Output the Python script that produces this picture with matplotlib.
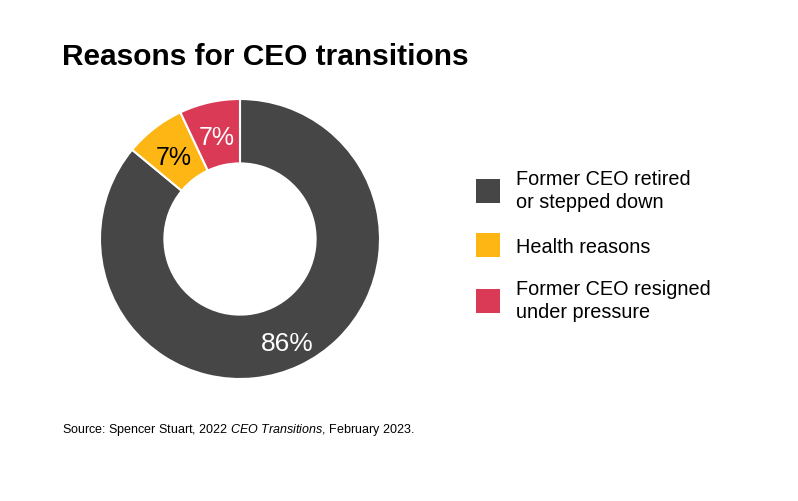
import numpy as np
import matplotlib.pyplot as plt
from matplotlib.patches import Patch

plt.rcParams['font.family'] = ['Liberation Sans', 'DejaVu Sans']
plt.rcParams['mathtext.fontset'] = 'custom'
plt.rcParams['mathtext.rm'] = 'Liberation Sans'
plt.rcParams['mathtext.it'] = 'Liberation Sans:italic'

labels = ['Former CEO retired\nor stepped down', 'Health reasons', 'Former CEO resigned\nunder pressure']
shares = [86, 7, 7]
pct_text = ['86%', '7%', '7%']
colors = ['#464646', '#FDB614', '#DA3A55']
text_colors = ['white', 'black', 'white']

W, H = 798, 502
fig = plt.figure(figsize=(W / 100, H / 100), dpi=100)

# donut centred at (240, 240) px, outer radius 140 px
cx, cy, r = 240, 240, 140
ax = fig.add_axes([(cx - r) / W, (H - cy - r) / H, 2 * r / W, 2 * r / H])
wedges, _ = ax.pie(shares, colors=colors, startangle=90, counterclock=False,
                   radius=1, wedgeprops=dict(width=0.46, edgecolor='white', linewidth=1.5))
ax.set_xlim(-1, 1)
ax.set_ylim(-1, 1)
ax.set_aspect('equal')
ax.axis('off')

# percentage labels in the middle of the ring
start = 90
for val, txt, tc in zip(shares, pct_text, text_colors):
    mid = np.deg2rad(start - val / 100 * 360 / 2)
    start -= val / 100 * 360
    d = 0.79 if val > 50 else 0.77
    ax.text(d * np.cos(mid), d * np.sin(mid) - (0.03 if val > 50 else 0.02), txt,
            ha='center', va='center', color=tc, fontsize=19 if val > 50 else 18)

handles = [Patch(facecolor=c, edgecolor='none') for c in colors]
leg = fig.legend(handles, labels, loc='center left', bbox_to_anchor=(468 / W, 1 - 246 / H),
                 frameon=False, fontsize=14.3, handlelength=1.2, handleheight=1.5,
                 handletextpad=0.8, labelspacing=1.1, borderaxespad=0)
for t in leg.get_texts():
    t.set_linespacing(1.3)

fig.text(62 / W, 1 - 57 / H, 'Reasons for CEO transitions', fontsize=21.5,
         fontweight='bold', va='center', ha='left')
fig.text(62 / W, 1 - 430 / H, 'Source: Spencer Stuart, $\\it{2022\\ CEO\\ Transitions}$, February 2023.',
         fontsize=9, va='center', ha='left')

fig.savefig('out.png', dpi=100)
